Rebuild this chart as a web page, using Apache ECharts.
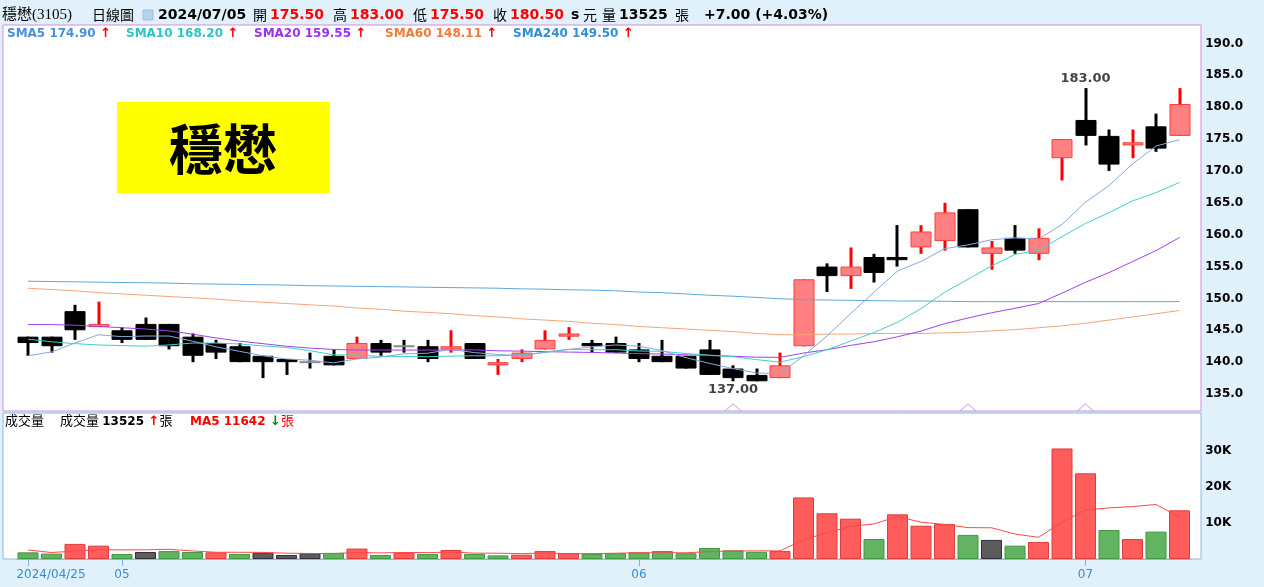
<!DOCTYPE html>
<html><head><meta charset="utf-8">
<script src="https://cdn.jsdelivr.net/npm/echarts@6/dist/echarts.min.js"></script>
<style>html,body{margin:0;padding:0;background:#e0f1fb;overflow:hidden}#c{width:1264px;height:587px}</style>
</head><body><div id="c"></div>
<script>
const dates = ['2024/04/25','2024/04/26','2024/04/29','2024/04/30','2024/05/02','2024/05/03','2024/05/06','2024/05/07','2024/05/08','2024/05/09',
'2024/05/10','2024/05/13','2024/05/14','2024/05/15','2024/05/16','2024/05/17','2024/05/20','2024/05/21','2024/05/22','2024/05/23',
'2024/05/24','2024/05/27','2024/05/28','2024/05/29','2024/05/30','2024/05/31','2024/06/03','2024/06/04','2024/06/05','2024/06/06',
'2024/06/07','2024/06/11','2024/06/12','2024/06/13','2024/06/14','2024/06/17','2024/06/18','2024/06/19','2024/06/20','2024/06/21',
'2024/06/24','2024/06/25','2024/06/26','2024/06/27','2024/06/28','2024/07/01','2024/07/02','2024/07/03','2024/07/04','2024/07/05'];
const opens = [144,144,148,145.5,145,146,146,144,143,142.5, 141,140.5,140,141,140.5,143,142.5,142.5,142,143,
139.5,140.5,142,144,143,143,142,141,141,142, 139,138,137.5,142.5,155,153.5,156.5,156.5,158,159,
164,157,159.5,157,172,178,175.5,174,177,175.5];
const highs = [144,144,149,149.5,145.5,147,146,144.5,143.5,143, 141,140.5,141.5,142,144,143.5,143.5,143.5,145,143,
140.5,142,145,145.5,143.5,144,143,143.5,141,143.5, 139.5,139,141.5,153,155.5,158,157,161.5,161.5,165,
164,159,161.5,161,175,183,176.5,176.5,179,183];
const lows = [141,141.5,143.5,145.5,143,143.5,142,140,140.5,140, 137.5,138,139,139.5,140.5,141,141.5,140,141.5,140.5,
138,140,142,143.5,141.5,141.5,140,140,139,138, 137,137,137.5,142.5,151,151.5,152.5,155,157,157.5,
158,154.5,157,156,168.5,174,170,172,173,175.5];
const closes = [143,142.5,145,146,143.5,143.5,142.5,141,141.5,140, 140,140,140,139.5,143,141.5,142.5,140.5,142.5,140.5,
140,141.5,143.5,144.5,142.5,141.5,140.5,140,139,138, 137.5,137,139.5,153,153.5,155,154,156,160.5,163.5,
158,158,157.5,159.5,175,175.5,171,174.5,173.5,180.5];
const prevClose = 144;
const volumes = [1850,1500,4200,3700,1400,1950,2200,1950,1850,1400, 1750,1100,1600,1700,2900,1100,1750,1400,2500,1400,
1000,1200,2200,1650,1400,1600,1850,2200,1600,3050, 2400,2000,2200,17100,12700,11200,5550,12400,9250,9700,
6700,5300,3700,4700,30700,23800,8050,5550,7600,13525];
const volMa5 = [2500,1800,2200,2600,2530,2550,2690,2240,1870,1870, 1830,1610,1540,1510,1810,1680,1810,1770,1930,1630,
1610,1500,1660,1490,1490,1610,1740,1740,1730,2060, 2220,2250,2250,5350,7280,9040,9750,11790,10220,9620,
8720,8670,6930,6020,10220,13640,14190,14560,15140,11642];
const sma5 = [141.0,141.6,143.0,144.3,144.0,144.1,144.1,143.3,142.4,141.7, 141.0,140.5,140.3,139.9,140.5,140.8,141.3,141.4,142.0,141.5,
141.2,141.0,141.6,142.0,142.4,142.7,142.5,141.8,140.7,139.8, 139.0,138.3,138.2,141.0,144.1,147.6,151.0,154.3,155.8,157.8,
158.4,159.2,159.5,159.3,161.6,165.1,167.7,171.1,173.9,174.9];
const sma10 = [143.6,143.2,142.9,142.7,142.6,142.5,142.7,143.0,143.0,142.85, 142.55,142.3,141.8,141.15,141.1,140.9,140.9,140.85,140.95,141.0,
141.0,141.15,141.5,142.0,141.95,141.95,141.75,141.7,141.35,141.1, 140.85,140.4,140.0,140.85,141.95,143.3,144.65,146.25,148.4,150.95,
153.0,155.1,156.9,157.55,159.7,161.75,163.45,165.3,166.6,168.2];
const sma20 = [145.9,145.9,145.8,145.6,145.4,145.2,144.9,144.4,143.8,143.3, 142.9,142.5,142.2,142.0,141.9,141.9,141.9,141.9,141.9,141.93,
141.78,141.73,141.65,141.58,141.53,141.43,141.33,141.28,141.15,141.05, 140.93,140.78,140.75,141.43,141.95,142.63,143.2,143.98,144.88,146.03,
146.93,147.75,148.45,149.2,150.83,152.53,154.05,155.78,157.5,159.55];
const sma60 = [151.6,151.4,151.2,150.9,150.7,150.5,150.3,150.1,149.9,149.6, 149.4,149.2,149.0,148.8,148.5,148.3,148.0,147.8,147.6,147.3,
147.1,146.8,146.6,146.4,146.1,145.9,145.6,145.4,145.2,145.0, 144.8,144.5,144.3,144.3,144.4,144.4,144.5,144.5,144.5,144.6,
144.7,144.9,145.1,145.4,145.7,146.1,146.6,147.1,147.6,148.1];
const sma240 = [152.7,152.65,152.6,152.55,152.5,152.45,152.4,152.3,152.25,152.2, 152.15,152.1,152.0,151.95,151.9,151.85,151.8,151.75,151.7,151.65,
151.6,151.5,151.45,151.35,151.3,151.2,151.0,150.9,150.7,150.5, 150.35,150.15,149.95,149.8,149.75,149.7,149.65,149.6,149.6,149.55,
149.5,149.5,149.5,149.5,149.5,149.5,149.5,149.5,149.5,149.5];
const tickIndex = [0, 4, 26, 45];
const tickText = ['2024/04/25', '05', '06', '07'];
const eventIdx = [30, 40, 45];
const priceMin = 130, priceMax = 195, priceStep = 5;
const volMin = 0, volMax = 40000, volStep = 10000;

const chart = echarts.init(document.getElementById('c'), null, {renderer: 'canvas'});
const NUM = "'DejaVu Sans', Verdana, sans-serif";
const CJK = "'Liberation Serif','Noto Sans CJK TC', serif";
const CJKS = "'Noto Sans CJK TC', sans-serif";

const candleData = dates.map((d, i) => [i, opens[i], closes[i], lows[i], highs[i]]);
const hiIdx = highs.indexOf(Math.max(...highs));
const loIdx = lows.indexOf(Math.min(...lows));

function renderCandle(params, api) {
  const i = api.value(0), o = api.value(1), c = api.value(2), l = api.value(3), h = api.value(4);
  const pO = api.coord([i, o]), pC = api.coord([i, c]), pL = api.coord([i, l]), pH = api.coord([i, h]);
  const x = Math.round(pO[0]);
  const bw = Math.round(api.size([1, 0])[0] * 0.9);
  const up = c > o, doji = c === o;
  const children = [];
  children.push({type: 'rect', shape: {x: x - 1.5, y: pH[1], width: 3, height: Math.max(pL[1] - pH[1], 1)},
    style: {fill: up ? '#ff0000' : '#000000'}});
  if (doji) {
    children.push({type: 'rect', shape: {x: x - bw / 2, y: pO[1] - 1, width: bw, height: 2}, style: {fill: '#8a8a8a'}});
  } else {
    const top = Math.min(pO[1], pC[1]), bot = Math.max(pO[1], pC[1]);
    children.push({type: 'rect', shape: {x: x - bw / 2 + 0.5, y: top + 0.5, width: bw - 1, height: Math.max(bot - top - 1, 1)},
      style: up ? {fill: '#ff8080', stroke: '#ff3c3c', lineWidth: 1} : {fill: '#000', stroke: '#000', lineWidth: 1}});
  }
  return {type: 'group', children};
}

const volData = volumes.map((v, i) => {
  const pc = i === 0 ? prevClose : closes[i - 1];
  let fill = '#ff5c5c', border = '#e03c3c';
  if (closes[i] < pc) { fill = '#62b462'; border = '#3f993f'; }
  else if (closes[i] === pc) { fill = '#5c5c5c'; border = '#2e2e3a'; }
  return {value: v, itemStyle: {color: fill, borderColor: border, borderWidth: 1}};
});

function lineSeries(name, data, color) {
  return {name, type: 'line', xAxisIndex: 0, yAxisIndex: 0, data, symbol: 'none', smooth: false, z: 4,
    lineStyle: {color, width: 1}, itemStyle: {color}, silent: true};
}

const txt = (x, y, text, font, color, weight, size, extra) => Object.assign({
  type: 'text', x, y, style: {text, fill: color, font: (weight || 'normal') + ' ' + size + 'px ' + font, verticalAlign: 'middle'}, z: 50
}, extra || {});

const legendRich = (label, color) => ({
  type: 'text', z: 50,
  style: {
    text: '{a|' + label + '}{r| ↑}',
    verticalAlign: 'middle',
    rich: {a: {fill: color, font: 'bold 12px ' + NUM}, r: {fill: '#ff0000', font: 'bold 13px ' + NUM}}
  }
});

const headerY = 15;
const graphics = [
  {type: 'rect', shape: {x: 3, y: 25, width: 1198, height: 386}, style: {fill: '#ffffff', stroke: '#d98ad9', lineWidth: 1}, z: -10},
  {type: 'rect', shape: {x: 3, y: 413, width: 1198, height: 146}, style: {fill: '#ffffff', stroke: '#8cb8dc', lineWidth: 1}, z: -10},
  txt(2, headerY, '穩懋(3105)', CJK, '#000', 'normal', 15),
  txt(92, headerY, '日線圖', CJKS, '#000', 'normal', 14),
  {type: 'rect', shape: {x: 143, y: 10, width: 10, height: 10}, style: {fill: '#b6d2ee', stroke: '#9cbfe0', lineWidth: 1}, z: 50},
  txt(158, headerY, '2024/07/05', NUM, '#000', 'bold', 14),
  txt(253, headerY, '開', CJKS, '#000', 'normal', 14),
  txt(270, headerY, '175.50', NUM, '#ff0000', 'bold', 14),
  txt(333, headerY, '高', CJKS, '#000', 'normal', 14),
  txt(350, headerY, '183.00', NUM, '#ff0000', 'bold', 14),
  txt(413, headerY, '低', CJKS, '#000', 'normal', 14),
  txt(430, headerY, '175.50', NUM, '#ff0000', 'bold', 14),
  txt(493, headerY, '收', CJKS, '#000', 'normal', 14),
  txt(510, headerY, '180.50', NUM, '#ff0000', 'bold', 14),
  txt(571, headerY, 's', NUM, '#000', 'bold', 14),
  txt(583, headerY, '元', CJKS, '#000', 'normal', 14),
  txt(602, headerY, '量', CJKS, '#000', 'normal', 14),
  txt(619, headerY, '13525', NUM, '#000', 'bold', 14),
  txt(675, headerY, '張', CJKS, '#000', 'normal', 14),
  txt(704, headerY, '+7.00 (+4.03%)', NUM, '#000', 'bold', 14),
  Object.assign(legendRich('SMA5 174.90', '#4a8fdc'), {x: 7, y: 34}),
  Object.assign(legendRich('SMA10 168.20', '#2cc4c4'), {x: 126, y: 34}),
  Object.assign(legendRich('SMA20 159.55', '#9b30f0'), {x: 254, y: 34}),
  Object.assign(legendRich('SMA60 148.11', '#f07a3c'), {x: 385, y: 34}),
  Object.assign(legendRich('SMA240 149.50', '#2f8ed8'), {x: 513, y: 34}),
  txt(5, 422, '成交量', CJK, '#000', 'normal', 13),
  {type: 'text', x: 60, y: 422, z: 50, style: {
    text: '{c|成交量 }{n|13525}{r| ↑}{c|張}', verticalAlign: 'middle',
    rich: {c: {fill: '#000', font: '13px ' + CJK}, n: {fill: '#000', font: 'bold 12px ' + NUM}, r: {fill: '#ff0000', font: 'bold 13px ' + NUM}}}},
  {type: 'text', x: 190, y: 422, z: 50, style: {
    text: '{n|MA5 11642}{g| ↓}{c|張}', verticalAlign: 'middle',
    rich: {c: {fill: '#ff0000', font: '13px ' + CJK}, n: {fill: '#ff0000', font: 'bold 12px ' + NUM}, g: {fill: '#008800', font: 'bold 13px ' + NUM}}}},
  {type: 'rect', shape: {x: 117, y: 102, width: 213, height: 91}, style: {fill: '#ffff00'}, z: 20},
  {type: 'text', x: 223, y: 149, z: 21, style: {text: '穩懋', fill: '#000', font: 'bold 54px ' + CJKS, align: 'center', verticalAlign: 'middle'}}
];

const option = {
  animation: false,
  backgroundColor: 'transparent',
  graphic: graphics,
  grid: [
    {left: 16.25, width: 1175, top: 11.6, height: 414.3, outerBoundsMode: 'none', containLabel: false},
    {left: 16.25, width: 1175, top: 415, height: 144, outerBoundsMode: 'none', containLabel: false}
  ],
  xAxis: [
    {type: 'category', gridIndex: 0, data: dates, boundaryGap: true, show: false},
    {type: 'category', gridIndex: 1, data: dates, boundaryGap: true,
      axisLine: {show: true, lineStyle: {color: '#8cb8dc', width: 1}},
      axisTick: {show: true, alignWithLabel: true, length: 7, lineStyle: {color: '#7aaedc'},
        interval: (idx) => tickIndex.includes(idx)},
      axisLabel: {show: true, interval: (idx) => tickIndex.includes(idx), margin: 10, color: '#3a8bd0',
        fontFamily: NUM, fontSize: 12,
        formatter: (v, idx) => {
          const k = tickIndex.indexOf(idx);
          if (k < 0) return '';
          return k === 0 ? '{f|' + tickText[k] + '}' : tickText[k];
        },
        rich: {f: {padding: [0, 0, 0, 46], color: '#3a8bd0', fontFamily: NUM, fontSize: 12}}},
      splitLine: {show: false}}
  ],
  yAxis: [
    {type: 'value', gridIndex: 0, position: 'right', min: priceMin, max: priceMax, interval: priceStep, scale: false,
      axisLine: {show: false}, axisTick: {show: false}, splitLine: {show: false},
      axisLabel: {margin: 14, color: '#000', fontWeight: 'bold', fontFamily: NUM, fontSize: 12,
        showMinLabel: false, showMaxLabel: false, formatter: v => v.toFixed(1)}},
    {type: 'value', gridIndex: 1, position: 'right', min: volMin, max: volMax, interval: volStep,
      axisLine: {show: false}, axisTick: {show: false}, splitLine: {show: false},
      axisLabel: {margin: 14, color: '#000', fontWeight: 'bold', fontFamily: NUM, fontSize: 12,
        showMinLabel: false, showMaxLabel: false, formatter: v => (v / 1000) + 'K'}}
  ],
  series: [
    {type: 'custom', name: 'K', xAxisIndex: 0, yAxisIndex: 0, data: candleData, renderItem: renderCandle,
      encode: {x: 0, y: [1, 2, 3, 4]}, z: 2, silent: true},
    lineSeries('SMA240', sma240, '#5aa8e0'),
    lineSeries('SMA60', sma60, '#f4a47a'),
    lineSeries('SMA20', sma20, '#a040f0'),
    lineSeries('SMA10', sma10, '#3fd0cc'),
    lineSeries('SMA5', sma5, '#86a8dc'),
    {type: 'scatter', xAxisIndex: 0, yAxisIndex: 0, z: 6, silent: true,
      data: eventIdx.map(i => [i, 132.9]),
      symbol: 'path://M0 10 L10 0 L20 10', symbolSize: [16, 7], symbolKeepAspect: false,
      itemStyle: {color: 'rgba(0,0,0,0)', borderColor: '#b4a8ec', borderWidth: 1}},
    {type: 'scatter', xAxisIndex: 0, yAxisIndex: 0, z: 7, silent: true, symbolSize: 1,
      itemStyle: {color: 'rgba(0,0,0,0)'},
      data: [
        {value: [hiIdx, highs[hiIdx]], label: {position: 'top', distance: 2}},
        {value: [loIdx, lows[loIdx]], label: {position: 'bottom', distance: 1}}
      ],
      label: {show: true, formatter: p => p.value[1].toFixed(2), color: '#111', fontWeight: 'bold', fontFamily: NUM, fontSize: 13}},
    {type: 'bar', xAxisIndex: 1, yAxisIndex: 1, data: volData, barWidth: 21, z: 2, silent: true},
    {type: 'line', xAxisIndex: 1, yAxisIndex: 1, data: volMa5, symbol: 'none', z: 4, silent: true,
      lineStyle: {color: '#ff4848', width: 1}}
  ]
};
chart.setOption(option);
</script>
</body></html>
